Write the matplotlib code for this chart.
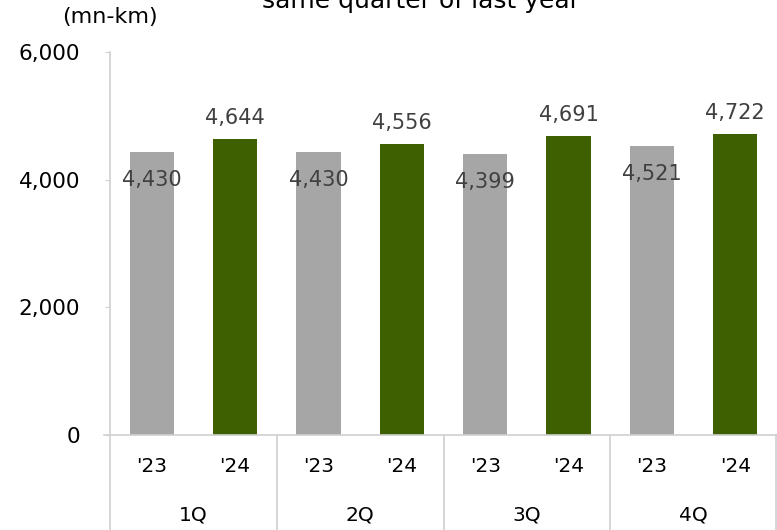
import matplotlib.pyplot as plt
import matplotlib.transforms as mtransforms
import numpy as np

quarters = ['1Q', '2Q', '3Q', '4Q']
years = ["'23", "'24"]
vals_23 = [4430, 4430, 4399, 4521]
vals_24 = [4644, 4556, 4691, 4722]
yticks = [0, 2000, 4000, 6000]
ytick_labels = ['0', '2,000', '4,000', '6,000']

c_grey = '#a6a6a6'
c_green = '#3f6000'
c_axis = '#d0d0d0'

fig = plt.figure(figsize=(7.77, 5.30), dpi=100)
ax = fig.add_axes([110 / 777, 1 - 435 / 530, 667 / 777, (435 - 52) / 530])

x23 = np.arange(len(quarters)) * 2
x24 = x23 + 1
w = 0.53
b23 = ax.bar(x23, vals_23, width=w, color=c_grey, zorder=2)
b24 = ax.bar(x24, vals_24, width=w, color=c_green, zorder=2)

# 数值标签：灰色柱在柱内，绿色柱在柱上
for rect, v in zip(b23, vals_23):
    ax.annotate(f'{v:,}', (rect.get_x() + rect.get_width() / 2, v),
                xytext=(0, -20), textcoords='offset points',
                ha='center', va='center', fontsize=15, color='#404040')
for rect, v in zip(b24, vals_24):
    ax.annotate(f'{v:,}', (rect.get_x() + rect.get_width() / 2, v),
                xytext=(0, 15), textcoords='offset points',
                ha='center', va='center', fontsize=15, color='#404040')

ax.set_xlim(-0.5, 2 * len(quarters) - 0.5)
ax.set_ylim(0, 6000)
ax.set_yticks(yticks)
ax.set_yticklabels(ytick_labels, fontsize=15.5, color='black')
ax.tick_params(axis='y', length=3.6, color=c_axis, pad=18)

ax.set_xticks([])
for s in ['top', 'right']:
    ax.spines[s].set_visible(False)
ax.spines['left'].set_color(c_axis)
ax.spines['bottom'].set_color(c_axis)
ax.spines['left'].set_linewidth(1.2)
ax.spines['bottom'].set_linewidth(1.2)

# 两级 x 轴标签
trans = mtransforms.blended_transform_factory(ax.transData, ax.transAxes)
for i, q in enumerate(quarters):
    for j, y in enumerate(years):
        ax.text(2 * i + j, -32 / 383, y, transform=trans, ha='center', va='center',
                fontsize=14.5, color='black')
    ax.text(2 * i + 0.5, -80 / 383, q, transform=trans, ha='center', va='center',
            fontsize=14.5, color='black')
for k in range(len(quarters) + 1):
    xs = 2 * k - 0.5 - (0.01 if k == len(quarters) else 0)
    ax.plot([xs, xs], [0, -100 / 383], transform=trans, color=c_axis, lw=1.2,
            clip_on=False)
ax.plot([-0.5 - 6 / 83.4, -0.5], [0, 0], transform=trans, color=c_axis, lw=1.2,
        clip_on=False)

fig.text(110 / 777, 1 - 17 / 530, '(mn-km)', ha='center', va='center',
         fontsize=16, color='black')
fig.text(421 / 777, 1 - 8 / 530, 'same quarter of last year', ha='center',
         va='baseline', fontsize=18, color='black')

fig.savefig('out.png', dpi=100)
